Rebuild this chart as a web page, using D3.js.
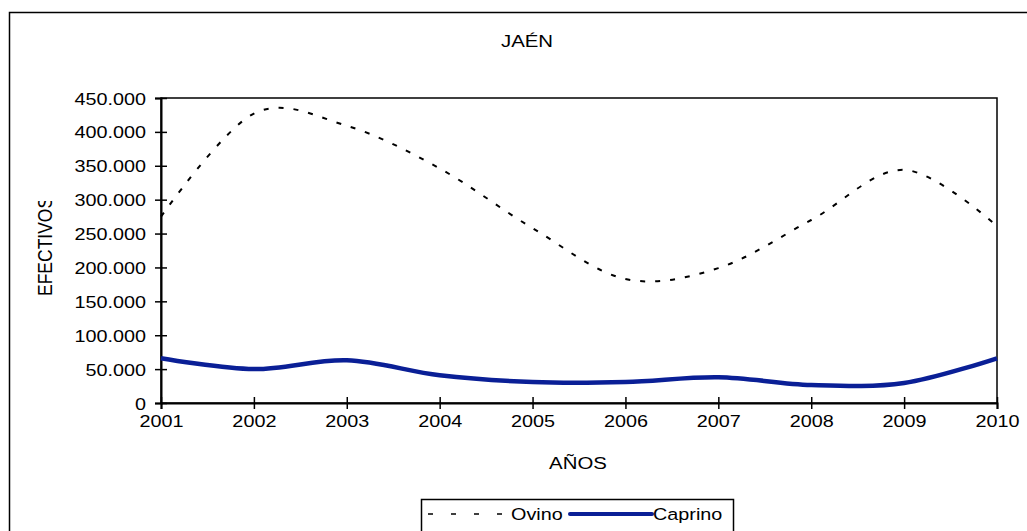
<!DOCTYPE html>
<html>
<head>
<meta charset="utf-8">
<script src="https://cdn.jsdelivr.net/npm/d3@7"></script>
<style>
  body { margin: 0; background: #fff; }
  text { font-family: "Liberation Sans", Arial, sans-serif; fill: #000; }
</style>
</head>
<body>
<div id="chart"></div>
<script>
const years = [2001, 2002, 2003, 2004, 2005, 2006, 2007, 2008, 2009, 2010];
const ovino = [275000, 427000, 409000, 346000, 258000, 183000, 199000, 270000, 344000, 261000];
const caprino = [66000, 50000, 63000, 41000, 31000, 31000, 38000, 26500, 29500, 66000];
const yTicks = [0, 50000, 100000, 150000, 200000, 250000, 300000, 350000, 400000, 450000];

const W = 1027, H = 531;
const plot = { left: 161, right: 997, top: 98, bottom: 403 };
const SX = 1.2; // horizontal stretch of the original lettering

const svg = d3.select("#chart")
    .append("svg")
    .attr("width", W)
    .attr("height", H);

const fmt = v => d3.format(",")(v).replace(/,/g, ".");

// outer chart frame (runs off the right and bottom edges)
svg.append("rect")
    .attr("x", 9.5).attr("y", 12.5)
    .attr("width", 1060).attr("height", 560)
    .attr("fill", "none")
    .attr("stroke", "#000")
    .attr("stroke-width", 1.5);

// title
svg.append("text")
    .attr("transform", `translate(527,47) scale(${SX},1)`)
    .attr("text-anchor", "middle")
    .style("font-size", "17px")
    .text("JAÉN");

const x = d3.scaleLinear()
    .domain([years[0], years[years.length - 1]])
    .range([plot.left, plot.right]);

const y = d3.scaleLinear()
    .domain([0, 450000])
    .range([plot.bottom, plot.top]);

// plot frame
svg.append("rect")
    .attr("x", plot.left).attr("y", plot.top)
    .attr("width", plot.right - plot.left)
    .attr("height", plot.bottom - plot.top)
    .attr("fill", "none")
    .attr("stroke", "#000")
    .attr("stroke-width", 1.5);

// Y axis
const yAxis = svg.append("g")
    .attr("transform", `translate(${plot.left},0)`)
    .call(d3.axisLeft(y).tickValues(yTicks).tickSize(6).tickFormat(fmt));
yAxis.select(".domain").attr("stroke", "#000").attr("stroke-width", 2);
yAxis.selectAll(".tick line").attr("x1", 6).attr("stroke", "#000").attr("stroke-width", 1.5);
yAxis.selectAll(".tick text")
    .attr("x", null).attr("dy", null)
    .attr("transform", `translate(-15,6) scale(${SX},1)`)
    .style("font-size", "16.5px");

// X axis
const xAxis = svg.append("g")
    .attr("transform", `translate(0,${plot.bottom})`)
    .call(d3.axisBottom(x).tickValues(years).tickSize(6).tickFormat(d3.format("d")));
xAxis.select(".domain").attr("stroke", "#000").attr("stroke-width", 2);
xAxis.selectAll(".tick line").attr("y1", -6).attr("stroke", "#000").attr("stroke-width", 1.5);
xAxis.selectAll(".tick text")
    .attr("y", null).attr("dy", null)
    .attr("transform", `translate(0,24) scale(${SX},1)`)
    .style("font-size", "16.5px");
svg.selectAll("g").attr("font-family", null).attr("font-size", null);

// axis titles
svg.append("text")
    .attr("transform", `translate(578,469) scale(${SX},1)`)
    .attr("text-anchor", "middle")
    .style("font-size", "17px")
    .text("AÑOS");

svg.append("clipPath").attr("id", "ylab-clip")
    .append("rect").attr("x", 0).attr("y", 201).attr("width", 100).attr("height", 200);

svg.append("g")
    .attr("clip-path", "url(#ylab-clip)")
    .append("text")
    .attr("transform", `translate(51.5,296) scale(${SX},1) rotate(-90)`)
    .style("font-size", "17.5px")
    .text("EFECTIVOS");

// lines
const line = values => d3.line()
    .x((d, i) => x(years[i]))
    .y(d => y(d))
    .curve(d3.curveCardinal.tension(0))(values);

svg.append("path")
    .attr("d", line(ovino))
    .attr("fill", "none")
    .attr("stroke", "#000")
    .attr("stroke-width", 2)
    .attr("stroke-dasharray", "5,10");

svg.append("path")
    .attr("d", line(caprino))
    .attr("fill", "none")
    .attr("stroke", "#0a1f96")
    .attr("stroke-width", 4.5);

// legend
const lg = svg.append("g");
lg.append("rect")
    .attr("x", 421.5).attr("y", 499.5)
    .attr("width", 312).attr("height", 50)
    .attr("fill", "#fff")
    .attr("stroke", "#000")
    .attr("stroke-width", 1.5);
lg.append("line")
    .attr("x1", 428).attr("x2", 506).attr("y1", 514).attr("y2", 514)
    .attr("stroke", "#000").attr("stroke-width", 1.5)
    .attr("stroke-dasharray", "5,18");
lg.append("text")
    .attr("transform", `translate(511,520) scale(${SX},1)`)
    .style("font-size", "16.5px")
    .text("Ovino");
lg.append("line")
    .attr("x1", 570).attr("x2", 652).attr("y1", 514).attr("y2", 514)
    .attr("stroke", "#0a1f96").attr("stroke-width", 4)
    .attr("stroke-linecap", "round");
lg.append("text")
    .attr("transform", `translate(653,520) scale(${SX},1)`)
    .style("font-size", "16.5px")
    .text("Caprino");
</script>
</body>
</html>
